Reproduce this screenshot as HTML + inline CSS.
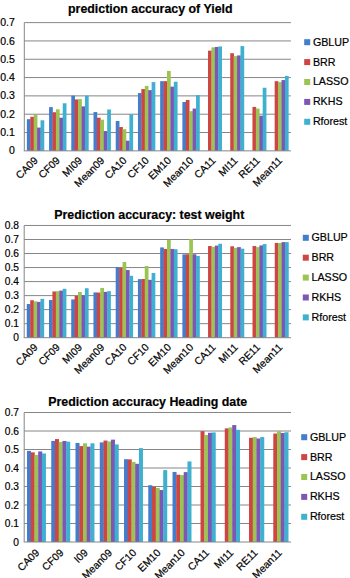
<!DOCTYPE html><html><head><meta charset="utf-8"><style>html,body{margin:0;padding:0;background:#fff;}svg{display:block;}text{font-family:"Liberation Sans",sans-serif;fill:#000;stroke:#000;stroke-width:0.2px;}</style></head><body>
<svg width="350" height="578" viewBox="0 0 350 578">
<rect width="350" height="578" fill="#fff"/>
<text x="150.30" y="13.00" font-size="12.4" font-weight="bold" text-anchor="middle">prediction accuracy of Yield</text>
<line x1="24.30" x2="290.90" y1="132.53" y2="132.53" stroke="#868686" stroke-width="1"/>
<line x1="24.30" x2="290.90" y1="114.21" y2="114.21" stroke="#868686" stroke-width="1"/>
<line x1="24.30" x2="290.90" y1="95.89" y2="95.89" stroke="#868686" stroke-width="1"/>
<line x1="24.30" x2="290.90" y1="77.57" y2="77.57" stroke="#868686" stroke-width="1"/>
<line x1="24.30" x2="290.90" y1="59.25" y2="59.25" stroke="#868686" stroke-width="1"/>
<line x1="24.30" x2="290.90" y1="40.93" y2="40.93" stroke="#868686" stroke-width="1"/>
<line x1="24.30" x2="290.90" y1="22.61" y2="22.61" stroke="#868686" stroke-width="1"/>
<text x="14.90" y="154.45" font-size="10.5" text-anchor="end">0</text>
<text x="14.90" y="136.13" font-size="10.5" text-anchor="end">0.1</text>
<text x="14.90" y="117.81" font-size="10.5" text-anchor="end">0.2</text>
<text x="14.90" y="99.49" font-size="10.5" text-anchor="end">0.3</text>
<text x="14.90" y="81.17" font-size="10.5" text-anchor="end">0.4</text>
<text x="14.90" y="62.85" font-size="10.5" text-anchor="end">0.5</text>
<text x="14.90" y="44.53" font-size="10.5" text-anchor="end">0.6</text>
<text x="14.90" y="26.21" font-size="10.5" text-anchor="end">0.7</text>
<rect x="26.86" y="119.18" width="3.72" height="31.67" fill="#437dcc"/>
<rect x="30.28" y="116.80" width="3.72" height="34.05" fill="#cf4544"/>
<rect x="33.70" y="114.97" width="3.72" height="35.88" fill="#9bc452"/>
<rect x="37.12" y="127.58" width="3.72" height="23.27" fill="#7d56b6"/>
<rect x="40.54" y="120.27" width="3.72" height="30.58" fill="#3fb1d0"/>
<rect x="49.08" y="107.12" width="3.72" height="43.73" fill="#437dcc"/>
<rect x="52.50" y="112.23" width="3.72" height="38.62" fill="#cf4544"/>
<rect x="55.92" y="109.31" width="3.72" height="41.54" fill="#9bc452"/>
<rect x="59.33" y="117.71" width="3.72" height="33.14" fill="#7d56b6"/>
<rect x="62.75" y="103.28" width="3.72" height="47.57" fill="#3fb1d0"/>
<rect x="71.30" y="95.61" width="3.72" height="55.24" fill="#437dcc"/>
<rect x="74.71" y="99.44" width="3.72" height="51.41" fill="#cf4544"/>
<rect x="78.13" y="99.08" width="3.72" height="51.77" fill="#9bc452"/>
<rect x="81.55" y="106.39" width="3.72" height="44.46" fill="#7d56b6"/>
<rect x="84.97" y="95.61" width="3.72" height="55.24" fill="#3fb1d0"/>
<rect x="93.51" y="112.05" width="3.72" height="38.80" fill="#437dcc"/>
<rect x="96.93" y="117.71" width="3.72" height="33.14" fill="#cf4544"/>
<rect x="100.35" y="119.72" width="3.72" height="31.13" fill="#9bc452"/>
<rect x="103.77" y="131.05" width="3.72" height="19.80" fill="#7d56b6"/>
<rect x="107.19" y="109.49" width="3.72" height="41.36" fill="#3fb1d0"/>
<rect x="115.73" y="121.00" width="3.72" height="29.85" fill="#437dcc"/>
<rect x="119.15" y="127.03" width="3.72" height="23.82" fill="#cf4544"/>
<rect x="122.57" y="129.22" width="3.72" height="21.63" fill="#9bc452"/>
<rect x="125.98" y="140.73" width="3.72" height="10.12" fill="#7d56b6"/>
<rect x="129.40" y="114.24" width="3.72" height="36.61" fill="#3fb1d0"/>
<rect x="137.95" y="93.05" width="3.72" height="57.80" fill="#437dcc"/>
<rect x="141.36" y="89.03" width="3.72" height="61.82" fill="#cf4544"/>
<rect x="144.78" y="85.92" width="3.72" height="64.93" fill="#9bc452"/>
<rect x="148.20" y="90.13" width="3.72" height="60.72" fill="#7d56b6"/>
<rect x="151.62" y="82.09" width="3.72" height="68.76" fill="#3fb1d0"/>
<rect x="160.16" y="81.17" width="3.72" height="69.68" fill="#437dcc"/>
<rect x="163.58" y="81.17" width="3.72" height="69.68" fill="#cf4544"/>
<rect x="167.00" y="70.94" width="3.72" height="79.91" fill="#9bc452"/>
<rect x="170.42" y="86.66" width="3.72" height="64.19" fill="#7d56b6"/>
<rect x="173.84" y="81.72" width="3.72" height="69.13" fill="#3fb1d0"/>
<rect x="182.38" y="102.00" width="3.72" height="48.85" fill="#437dcc"/>
<rect x="185.80" y="99.99" width="3.72" height="50.86" fill="#cf4544"/>
<rect x="189.22" y="111.14" width="3.72" height="39.71" fill="#9bc452"/>
<rect x="192.63" y="108.58" width="3.72" height="42.27" fill="#7d56b6"/>
<rect x="196.05" y="95.06" width="3.72" height="55.79" fill="#3fb1d0"/>
<rect x="208.01" y="50.66" width="3.72" height="100.19" fill="#cf4544"/>
<rect x="211.43" y="47.37" width="3.72" height="103.48" fill="#9bc452"/>
<rect x="214.85" y="47.01" width="3.72" height="103.84" fill="#7d56b6"/>
<rect x="218.27" y="46.46" width="3.72" height="104.39" fill="#3fb1d0"/>
<rect x="230.23" y="53.22" width="3.72" height="97.63" fill="#cf4544"/>
<rect x="233.65" y="56.14" width="3.72" height="94.71" fill="#9bc452"/>
<rect x="237.07" y="55.41" width="3.72" height="95.44" fill="#7d56b6"/>
<rect x="240.49" y="46.10" width="3.72" height="104.75" fill="#3fb1d0"/>
<rect x="252.45" y="106.93" width="3.72" height="43.92" fill="#cf4544"/>
<rect x="255.87" y="108.58" width="3.72" height="42.27" fill="#9bc452"/>
<rect x="259.28" y="115.70" width="3.72" height="35.15" fill="#7d56b6"/>
<rect x="262.70" y="87.75" width="3.72" height="63.10" fill="#3fb1d0"/>
<rect x="274.66" y="81.17" width="3.72" height="69.68" fill="#cf4544"/>
<rect x="278.08" y="82.09" width="3.72" height="68.76" fill="#9bc452"/>
<rect x="281.50" y="80.08" width="3.72" height="70.77" fill="#7d56b6"/>
<rect x="284.92" y="75.88" width="3.72" height="74.97" fill="#3fb1d0"/>
<line x1="24.30" x2="24.30" y1="22.61" y2="150.85" stroke="#868686" stroke-width="1"/>
<line x1="23.80" x2="290.90" y1="150.85" y2="150.85" stroke="#868686" stroke-width="1"/>
<text transform="translate(33.41,156.05) rotate(-45)" x="0" y="0" font-size="10.4" text-anchor="end" dominant-baseline="hanging">CA09</text>
<text transform="translate(55.62,156.05) rotate(-45)" x="0" y="0" font-size="10.4" text-anchor="end" dominant-baseline="hanging">CF09</text>
<text transform="translate(77.84,156.05) rotate(-45)" x="0" y="0" font-size="10.4" text-anchor="end" dominant-baseline="hanging">MI09</text>
<text transform="translate(100.06,156.05) rotate(-45)" x="0" y="0" font-size="10.4" text-anchor="end" dominant-baseline="hanging">Mean09</text>
<text transform="translate(122.27,156.05) rotate(-45)" x="0" y="0" font-size="10.4" text-anchor="end" dominant-baseline="hanging">CA10</text>
<text transform="translate(144.49,156.05) rotate(-45)" x="0" y="0" font-size="10.4" text-anchor="end" dominant-baseline="hanging">CF10</text>
<text transform="translate(166.71,156.05) rotate(-45)" x="0" y="0" font-size="10.4" text-anchor="end" dominant-baseline="hanging">EM10</text>
<text transform="translate(188.93,156.05) rotate(-45)" x="0" y="0" font-size="10.4" text-anchor="end" dominant-baseline="hanging">Mean10</text>
<text transform="translate(211.14,156.05) rotate(-45)" x="0" y="0" font-size="10.4" text-anchor="end" dominant-baseline="hanging">CA11</text>
<text transform="translate(233.36,156.05) rotate(-45)" x="0" y="0" font-size="10.4" text-anchor="end" dominant-baseline="hanging">MI11</text>
<text transform="translate(255.57,156.05) rotate(-45)" x="0" y="0" font-size="10.4" text-anchor="end" dominant-baseline="hanging">RE11</text>
<text transform="translate(277.79,156.05) rotate(-45)" x="0" y="0" font-size="10.4" text-anchor="end" dominant-baseline="hanging">Mean11</text>
<rect x="304.20" y="39.20" width="6.0" height="6.0" fill="#437dcc"/>
<text x="312.90" y="45.60" font-size="10.7">GBLUP</text>
<rect x="304.20" y="59.10" width="6.0" height="6.0" fill="#cf4544"/>
<text x="312.90" y="65.50" font-size="10.7">BRR</text>
<rect x="304.20" y="79.00" width="6.0" height="6.0" fill="#9bc452"/>
<text x="312.90" y="85.40" font-size="10.7">LASSO</text>
<rect x="304.20" y="98.90" width="6.0" height="6.0" fill="#7d56b6"/>
<text x="312.90" y="105.30" font-size="10.7">RKHS</text>
<rect x="304.20" y="118.80" width="6.0" height="6.0" fill="#3fb1d0"/>
<text x="312.90" y="125.20" font-size="10.7">Rforest</text>
<text x="149.30" y="219.30" font-size="12.4" font-weight="bold" text-anchor="middle">Prediction accuracy: test weight</text>
<line x1="24.20" x2="291.00" y1="323.67" y2="323.67" stroke="#868686" stroke-width="1"/>
<line x1="24.20" x2="291.00" y1="309.64" y2="309.64" stroke="#868686" stroke-width="1"/>
<line x1="24.20" x2="291.00" y1="295.61" y2="295.61" stroke="#868686" stroke-width="1"/>
<line x1="24.20" x2="291.00" y1="281.58" y2="281.58" stroke="#868686" stroke-width="1"/>
<line x1="24.20" x2="291.00" y1="267.55" y2="267.55" stroke="#868686" stroke-width="1"/>
<line x1="24.20" x2="291.00" y1="253.52" y2="253.52" stroke="#868686" stroke-width="1"/>
<line x1="24.20" x2="291.00" y1="239.49" y2="239.49" stroke="#868686" stroke-width="1"/>
<line x1="24.20" x2="291.00" y1="225.46" y2="225.46" stroke="#868686" stroke-width="1"/>
<text x="19.00" y="341.30" font-size="10.2" text-anchor="end">0</text>
<text x="19.00" y="327.27" font-size="10.2" text-anchor="end">0.1</text>
<text x="19.00" y="313.24" font-size="10.2" text-anchor="end">0.2</text>
<text x="19.00" y="299.21" font-size="10.2" text-anchor="end">0.3</text>
<text x="19.00" y="285.18" font-size="10.2" text-anchor="end">0.4</text>
<text x="19.00" y="271.15" font-size="10.2" text-anchor="end">0.5</text>
<text x="19.00" y="257.12" font-size="10.2" text-anchor="end">0.6</text>
<text x="19.00" y="243.09" font-size="10.2" text-anchor="end">0.7</text>
<text x="19.00" y="229.06" font-size="10.2" text-anchor="end">0.8</text>
<rect x="26.77" y="304.03" width="3.72" height="33.67" fill="#437dcc"/>
<rect x="30.19" y="300.25" width="3.72" height="37.45" fill="#cf4544"/>
<rect x="33.61" y="301.37" width="3.72" height="36.33" fill="#9bc452"/>
<rect x="37.03" y="301.93" width="3.72" height="35.77" fill="#7d56b6"/>
<rect x="40.45" y="298.86" width="3.72" height="38.84" fill="#3fb1d0"/>
<rect x="49.00" y="299.97" width="3.72" height="37.73" fill="#437dcc"/>
<rect x="52.42" y="291.45" width="3.72" height="46.25" fill="#cf4544"/>
<rect x="55.84" y="291.17" width="3.72" height="46.53" fill="#9bc452"/>
<rect x="59.26" y="290.61" width="3.72" height="47.09" fill="#7d56b6"/>
<rect x="62.68" y="288.79" width="3.72" height="48.91" fill="#3fb1d0"/>
<rect x="71.23" y="299.41" width="3.72" height="38.29" fill="#437dcc"/>
<rect x="74.65" y="295.78" width="3.72" height="41.92" fill="#cf4544"/>
<rect x="78.07" y="292.00" width="3.72" height="45.70" fill="#9bc452"/>
<rect x="81.49" y="295.22" width="3.72" height="42.48" fill="#7d56b6"/>
<rect x="84.91" y="288.23" width="3.72" height="49.47" fill="#3fb1d0"/>
<rect x="93.47" y="292.42" width="3.72" height="45.28" fill="#437dcc"/>
<rect x="96.89" y="292.56" width="3.72" height="45.14" fill="#cf4544"/>
<rect x="100.31" y="287.95" width="3.72" height="49.75" fill="#9bc452"/>
<rect x="103.73" y="291.87" width="3.72" height="45.83" fill="#7d56b6"/>
<rect x="107.15" y="291.17" width="3.72" height="46.53" fill="#3fb1d0"/>
<rect x="115.70" y="266.98" width="3.72" height="70.72" fill="#437dcc"/>
<rect x="119.12" y="267.82" width="3.72" height="69.88" fill="#cf4544"/>
<rect x="122.54" y="261.95" width="3.72" height="75.75" fill="#9bc452"/>
<rect x="125.96" y="270.06" width="3.72" height="67.64" fill="#7d56b6"/>
<rect x="129.38" y="275.79" width="3.72" height="61.91" fill="#3fb1d0"/>
<rect x="137.93" y="279.14" width="3.72" height="58.56" fill="#437dcc"/>
<rect x="141.35" y="279.00" width="3.72" height="58.70" fill="#cf4544"/>
<rect x="144.77" y="266.00" width="3.72" height="71.70" fill="#9bc452"/>
<rect x="148.19" y="279.84" width="3.72" height="57.86" fill="#7d56b6"/>
<rect x="151.61" y="272.99" width="3.72" height="64.71" fill="#3fb1d0"/>
<rect x="160.17" y="247.41" width="3.72" height="90.29" fill="#437dcc"/>
<rect x="163.59" y="248.95" width="3.72" height="88.75" fill="#cf4544"/>
<rect x="167.01" y="239.86" width="3.72" height="97.84" fill="#9bc452"/>
<rect x="170.43" y="248.95" width="3.72" height="88.75" fill="#7d56b6"/>
<rect x="173.85" y="249.23" width="3.72" height="88.47" fill="#3fb1d0"/>
<rect x="182.40" y="254.40" width="3.72" height="83.30" fill="#437dcc"/>
<rect x="185.82" y="254.26" width="3.72" height="83.44" fill="#cf4544"/>
<rect x="189.24" y="239.16" width="3.72" height="98.54" fill="#9bc452"/>
<rect x="192.66" y="254.26" width="3.72" height="83.44" fill="#7d56b6"/>
<rect x="196.08" y="255.94" width="3.72" height="81.76" fill="#3fb1d0"/>
<rect x="208.05" y="246.01" width="3.72" height="91.69" fill="#cf4544"/>
<rect x="211.47" y="246.85" width="3.72" height="90.85" fill="#9bc452"/>
<rect x="214.89" y="245.59" width="3.72" height="92.11" fill="#7d56b6"/>
<rect x="218.31" y="243.77" width="3.72" height="93.93" fill="#3fb1d0"/>
<rect x="230.29" y="246.29" width="3.72" height="91.41" fill="#cf4544"/>
<rect x="233.71" y="247.83" width="3.72" height="89.87" fill="#9bc452"/>
<rect x="237.13" y="247.13" width="3.72" height="90.57" fill="#7d56b6"/>
<rect x="240.55" y="248.67" width="3.72" height="89.03" fill="#3fb1d0"/>
<rect x="252.52" y="246.01" width="3.72" height="91.69" fill="#cf4544"/>
<rect x="255.94" y="247.13" width="3.72" height="90.57" fill="#9bc452"/>
<rect x="259.36" y="245.45" width="3.72" height="92.25" fill="#7d56b6"/>
<rect x="262.78" y="244.05" width="3.72" height="93.65" fill="#3fb1d0"/>
<rect x="274.75" y="242.94" width="3.72" height="94.76" fill="#cf4544"/>
<rect x="278.17" y="242.94" width="3.72" height="94.76" fill="#9bc452"/>
<rect x="281.59" y="242.10" width="3.72" height="95.60" fill="#7d56b6"/>
<rect x="285.01" y="242.10" width="3.72" height="95.60" fill="#3fb1d0"/>
<line x1="24.20" x2="24.20" y1="225.46" y2="337.70" stroke="#868686" stroke-width="1"/>
<line x1="23.70" x2="291.00" y1="337.70" y2="337.70" stroke="#868686" stroke-width="1"/>
<text transform="translate(33.32,342.90) rotate(-45)" x="0" y="0" font-size="10.4" text-anchor="end" dominant-baseline="hanging">CA09</text>
<text transform="translate(55.55,342.90) rotate(-45)" x="0" y="0" font-size="10.4" text-anchor="end" dominant-baseline="hanging">CF09</text>
<text transform="translate(77.78,342.90) rotate(-45)" x="0" y="0" font-size="10.4" text-anchor="end" dominant-baseline="hanging">MI09</text>
<text transform="translate(100.02,342.90) rotate(-45)" x="0" y="0" font-size="10.4" text-anchor="end" dominant-baseline="hanging">Mean09</text>
<text transform="translate(122.25,342.90) rotate(-45)" x="0" y="0" font-size="10.4" text-anchor="end" dominant-baseline="hanging">CA10</text>
<text transform="translate(144.48,342.90) rotate(-45)" x="0" y="0" font-size="10.4" text-anchor="end" dominant-baseline="hanging">CF10</text>
<text transform="translate(166.72,342.90) rotate(-45)" x="0" y="0" font-size="10.4" text-anchor="end" dominant-baseline="hanging">EM10</text>
<text transform="translate(188.95,342.90) rotate(-45)" x="0" y="0" font-size="10.4" text-anchor="end" dominant-baseline="hanging">Mean10</text>
<text transform="translate(211.18,342.90) rotate(-45)" x="0" y="0" font-size="10.4" text-anchor="end" dominant-baseline="hanging">CA11</text>
<text transform="translate(233.42,342.90) rotate(-45)" x="0" y="0" font-size="10.4" text-anchor="end" dominant-baseline="hanging">MI11</text>
<text transform="translate(255.65,342.90) rotate(-45)" x="0" y="0" font-size="10.4" text-anchor="end" dominant-baseline="hanging">RE11</text>
<text transform="translate(277.88,342.90) rotate(-45)" x="0" y="0" font-size="10.4" text-anchor="end" dominant-baseline="hanging">Mean11</text>
<rect x="302.80" y="234.80" width="6.0" height="6.0" fill="#437dcc"/>
<text x="311.50" y="241.20" font-size="10.7">GBLUP</text>
<rect x="302.80" y="254.70" width="6.0" height="6.0" fill="#cf4544"/>
<text x="311.50" y="261.10" font-size="10.7">BRR</text>
<rect x="302.80" y="274.60" width="6.0" height="6.0" fill="#9bc452"/>
<text x="311.50" y="281.00" font-size="10.7">LASSO</text>
<rect x="302.80" y="294.50" width="6.0" height="6.0" fill="#7d56b6"/>
<text x="311.50" y="300.90" font-size="10.7">RKHS</text>
<rect x="302.80" y="314.40" width="6.0" height="6.0" fill="#3fb1d0"/>
<text x="311.50" y="320.80" font-size="10.7">Rforest</text>
<text x="147.70" y="406.40" font-size="12.4" font-weight="bold" text-anchor="middle">Prediction accuracy Heading date</text>
<line x1="24.20" x2="291.00" y1="523.50" y2="523.50" stroke="#868686" stroke-width="1"/>
<line x1="24.20" x2="291.00" y1="505.00" y2="505.00" stroke="#868686" stroke-width="1"/>
<line x1="24.20" x2="291.00" y1="486.50" y2="486.50" stroke="#868686" stroke-width="1"/>
<line x1="24.20" x2="291.00" y1="468.00" y2="468.00" stroke="#868686" stroke-width="1"/>
<line x1="24.20" x2="291.00" y1="449.50" y2="449.50" stroke="#868686" stroke-width="1"/>
<line x1="24.20" x2="291.00" y1="431.00" y2="431.00" stroke="#868686" stroke-width="1"/>
<line x1="24.20" x2="291.00" y1="412.50" y2="412.50" stroke="#868686" stroke-width="1"/>
<text x="19.00" y="545.60" font-size="10.2" text-anchor="end">0</text>
<text x="19.00" y="527.10" font-size="10.2" text-anchor="end">0.1</text>
<text x="19.00" y="508.60" font-size="10.2" text-anchor="end">0.2</text>
<text x="19.00" y="490.10" font-size="10.2" text-anchor="end">0.3</text>
<text x="19.00" y="471.60" font-size="10.2" text-anchor="end">0.4</text>
<text x="19.00" y="453.10" font-size="10.2" text-anchor="end">0.5</text>
<text x="19.00" y="434.60" font-size="10.2" text-anchor="end">0.6</text>
<text x="19.00" y="416.10" font-size="10.2" text-anchor="end">0.7</text>
<rect x="27.00" y="450.89" width="4.03" height="91.11" fill="#437dcc"/>
<rect x="30.73" y="452.37" width="4.03" height="89.63" fill="#cf4544"/>
<rect x="34.46" y="454.95" width="4.03" height="87.05" fill="#9bc452"/>
<rect x="38.19" y="451.45" width="4.03" height="90.55" fill="#7d56b6"/>
<rect x="41.92" y="453.48" width="4.03" height="88.52" fill="#3fb1d0"/>
<rect x="51.25" y="440.92" width="4.03" height="101.08" fill="#437dcc"/>
<rect x="54.98" y="439.08" width="4.03" height="102.92" fill="#cf4544"/>
<rect x="58.72" y="442.03" width="4.03" height="99.97" fill="#9bc452"/>
<rect x="62.45" y="440.92" width="4.03" height="101.08" fill="#7d56b6"/>
<rect x="66.18" y="441.66" width="4.03" height="100.34" fill="#3fb1d0"/>
<rect x="75.51" y="442.95" width="4.03" height="99.05" fill="#437dcc"/>
<rect x="79.24" y="446.09" width="4.03" height="95.91" fill="#cf4544"/>
<rect x="82.97" y="443.32" width="4.03" height="98.68" fill="#9bc452"/>
<rect x="86.70" y="446.65" width="4.03" height="95.35" fill="#7d56b6"/>
<rect x="90.43" y="443.32" width="4.03" height="98.68" fill="#3fb1d0"/>
<rect x="99.76" y="442.40" width="4.03" height="99.60" fill="#437dcc"/>
<rect x="103.49" y="440.55" width="4.03" height="101.45" fill="#cf4544"/>
<rect x="107.23" y="441.48" width="4.03" height="100.52" fill="#9bc452"/>
<rect x="110.96" y="439.63" width="4.03" height="102.37" fill="#7d56b6"/>
<rect x="114.69" y="444.43" width="4.03" height="97.57" fill="#3fb1d0"/>
<rect x="124.02" y="459.20" width="4.03" height="82.80" fill="#437dcc"/>
<rect x="127.75" y="459.38" width="4.03" height="82.62" fill="#cf4544"/>
<rect x="131.48" y="461.97" width="4.03" height="80.03" fill="#9bc452"/>
<rect x="135.21" y="463.81" width="4.03" height="78.19" fill="#7d56b6"/>
<rect x="138.94" y="448.12" width="4.03" height="93.88" fill="#3fb1d0"/>
<rect x="148.27" y="485.23" width="4.03" height="56.77" fill="#437dcc"/>
<rect x="152.00" y="486.89" width="4.03" height="55.11" fill="#cf4544"/>
<rect x="155.73" y="488.00" width="4.03" height="54.00" fill="#9bc452"/>
<rect x="159.47" y="490.03" width="4.03" height="51.97" fill="#7d56b6"/>
<rect x="163.20" y="470.09" width="4.03" height="71.91" fill="#3fb1d0"/>
<rect x="172.53" y="471.94" width="4.03" height="70.06" fill="#437dcc"/>
<rect x="176.26" y="474.71" width="4.03" height="67.29" fill="#cf4544"/>
<rect x="179.99" y="475.07" width="4.03" height="66.93" fill="#9bc452"/>
<rect x="183.72" y="472.12" width="4.03" height="69.88" fill="#7d56b6"/>
<rect x="187.45" y="461.41" width="4.03" height="80.59" fill="#3fb1d0"/>
<rect x="200.51" y="431.14" width="4.03" height="110.86" fill="#cf4544"/>
<rect x="204.24" y="435.02" width="4.03" height="106.98" fill="#9bc452"/>
<rect x="207.97" y="432.80" width="4.03" height="109.20" fill="#7d56b6"/>
<rect x="211.71" y="432.43" width="4.03" height="109.57" fill="#3fb1d0"/>
<rect x="224.77" y="428.37" width="4.03" height="113.63" fill="#cf4544"/>
<rect x="228.50" y="427.45" width="4.03" height="114.55" fill="#9bc452"/>
<rect x="232.23" y="425.05" width="4.03" height="116.95" fill="#7d56b6"/>
<rect x="235.96" y="429.85" width="4.03" height="112.15" fill="#3fb1d0"/>
<rect x="249.02" y="437.79" width="4.03" height="104.21" fill="#cf4544"/>
<rect x="252.75" y="437.05" width="4.03" height="104.95" fill="#9bc452"/>
<rect x="256.48" y="438.52" width="4.03" height="103.48" fill="#7d56b6"/>
<rect x="260.22" y="437.05" width="4.03" height="104.95" fill="#3fb1d0"/>
<rect x="273.28" y="433.54" width="4.03" height="108.46" fill="#cf4544"/>
<rect x="277.01" y="431.14" width="4.03" height="110.86" fill="#9bc452"/>
<rect x="280.74" y="432.99" width="4.03" height="109.01" fill="#7d56b6"/>
<rect x="284.47" y="432.25" width="4.03" height="109.75" fill="#3fb1d0"/>
<line x1="24.20" x2="24.20" y1="412.50" y2="542.00" stroke="#868686" stroke-width="1"/>
<line x1="23.70" x2="291.00" y1="542.00" y2="542.00" stroke="#868686" stroke-width="1"/>
<text transform="translate(34.93,548.20) rotate(-45)" x="0" y="0" font-size="10.4" text-anchor="end" dominant-baseline="hanging">CA09</text>
<text transform="translate(59.18,548.20) rotate(-45)" x="0" y="0" font-size="10.4" text-anchor="end" dominant-baseline="hanging">CF09</text>
<text transform="translate(83.44,548.20) rotate(-45)" x="0" y="0" font-size="10.4" text-anchor="end" dominant-baseline="hanging">I09</text>
<text transform="translate(107.69,548.20) rotate(-45)" x="0" y="0" font-size="10.4" text-anchor="end" dominant-baseline="hanging">Mean09</text>
<text transform="translate(131.95,548.20) rotate(-45)" x="0" y="0" font-size="10.4" text-anchor="end" dominant-baseline="hanging">CF10</text>
<text transform="translate(156.20,548.20) rotate(-45)" x="0" y="0" font-size="10.4" text-anchor="end" dominant-baseline="hanging">EM10</text>
<text transform="translate(180.45,548.20) rotate(-45)" x="0" y="0" font-size="10.4" text-anchor="end" dominant-baseline="hanging">Mean10</text>
<text transform="translate(204.71,548.20) rotate(-45)" x="0" y="0" font-size="10.4" text-anchor="end" dominant-baseline="hanging">CA11</text>
<text transform="translate(228.96,548.20) rotate(-45)" x="0" y="0" font-size="10.4" text-anchor="end" dominant-baseline="hanging">MI11</text>
<text transform="translate(253.22,548.20) rotate(-45)" x="0" y="0" font-size="10.4" text-anchor="end" dominant-baseline="hanging">RE11</text>
<text transform="translate(277.47,548.20) rotate(-45)" x="0" y="0" font-size="10.4" text-anchor="end" dominant-baseline="hanging">Mean11</text>
<rect x="301.20" y="434.20" width="6.0" height="6.0" fill="#437dcc"/>
<text x="309.90" y="440.60" font-size="10.7">GBLUP</text>
<rect x="301.20" y="454.10" width="6.0" height="6.0" fill="#cf4544"/>
<text x="309.90" y="460.50" font-size="10.7">BRR</text>
<rect x="301.20" y="474.00" width="6.0" height="6.0" fill="#9bc452"/>
<text x="309.90" y="480.40" font-size="10.7">LASSO</text>
<rect x="301.20" y="493.90" width="6.0" height="6.0" fill="#7d56b6"/>
<text x="309.90" y="500.30" font-size="10.7">RKHS</text>
<rect x="301.20" y="513.80" width="6.0" height="6.0" fill="#3fb1d0"/>
<text x="309.90" y="520.20" font-size="10.7">Rforest</text>
</svg></body></html>
